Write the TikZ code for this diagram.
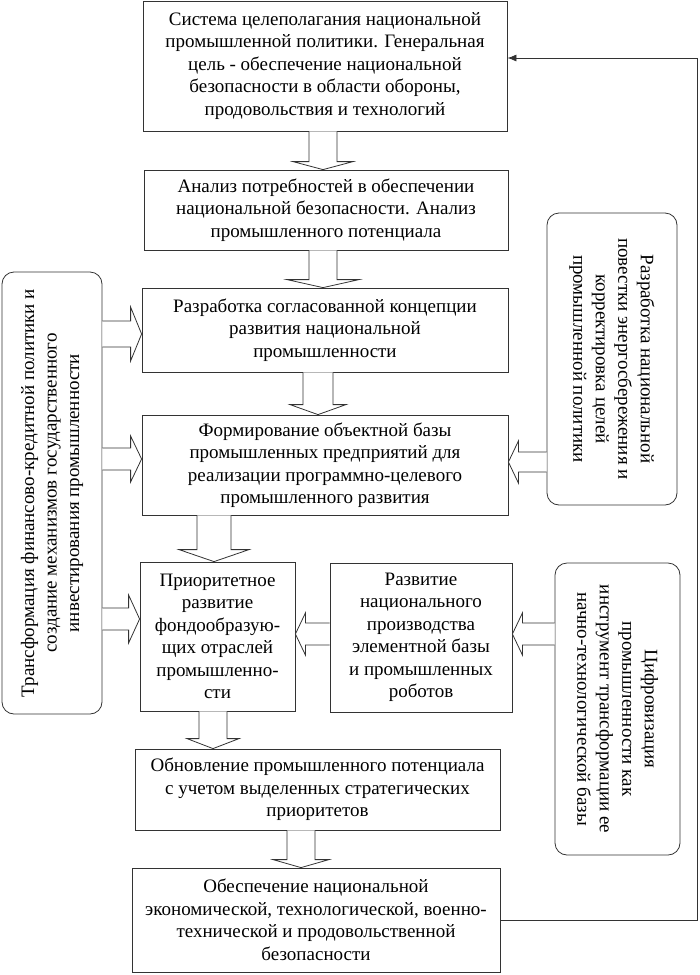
\documentclass[tikz,border=0pt]{standalone}
\usepackage{fontspec}
\setmainfont{Liberation Serif}
\usetikzlibrary{calc,arrows.meta}
\tikzset{
  ln/.style={draw=black!80, line width=0.8pt},
  box/.style={ln, fill=white, inner sep=0pt, align=center, font=\fontsize{19}{22.5}\selectfont},
  rbox/.style={ln, fill=white, rounded corners=12pt, inner sep=0pt},
  rtext/.style={inner sep=0pt, align=center, font=\fontsize{19}{22.5}\selectfont},
  blockarrow/.style={ln, fill=white, line join=miter},
  fbline/.style={ln, -{Latex[length=9pt,width=7pt]}}
}
\newcommand\downblock[6]{%
  \path (#3,0 |- #1.south) coordinate (bs) (#3,0 |- #2.north) coordinate (bt);
  \draw[blockarrow] ($(bs)+(-#4,0)$) -- ($(bt)+(-#4,-#6)$) -- ($(bt)+(-#5,-#6)$) -- (bt) -- ($(bt)+(#5,-#6)$) -- ($(bt)+(#4,-#6)$) -- ($(bs)+(#4,0)$);
}
\newcommand\rightblock[6]{%
  \path (#1.east |- 0,#3) coordinate (bs) (#2.west |- 0,#3) coordinate (bt);
  \draw[blockarrow] ($(bs)+(0,-#4)$) -- ($(bt)+(-#6,-#4)$) -- ($(bt)+(-#6,-#5)$) -- (bt) -- ($(bt)+(-#6,#5)$) -- ($(bt)+(-#6,#4)$) -- ($(bs)+(0,#4)$);
}
\newcommand\leftblock[6]{%
  \path (#1.west |- 0,#3) coordinate (bs) (#2.east |- 0,#3) coordinate (bt);
  \draw[blockarrow] ($(bs)+(0,-#4)$) -- ($(bt)+(#6,-#4)$) -- ($(bt)+(#6,-#5)$) -- (bt) -- ($(bt)+(#6,#5)$) -- ($(bt)+(#6,#4)$) -- ($(bs)+(0,#4)$);
}
\begin{document}
\begin{tikzpicture}[x=1pt,y=-1pt]
\useasboundingbox (0,0) rectangle (700,975);

\node[box, minimum width=364pt, minimum height=130pt] (b1) at (325,66)
  {Система целеполагания национальной\\промышленной политики. Генеральная\\цель - обеспечение национальной\\безопасности в области обороны,\\продовольствия и технологий};
\node[box, minimum width=364pt, minimum height=80pt] (b2) at (326,210)
  {Анализ потребностей в обеспечении\\национальной безопасности. Анализ\\промышленного потенциала};
\node[box, minimum width=366pt, minimum height=84pt] (b3) at (325,330)
  {Разработка согласованной концепции\\развития национальной\\промышленности};
\node[box, minimum width=366pt, minimum height=100pt] (b4) at (325,465)
  {Формирование объектной базы\\промышленных предприятий для\\реализации программно-целевого\\промышленного развития};
\node[box, minimum width=155pt, minimum height=149pt] (b5) at (217.5,636.5)
  {Приоритетное\\развитие\\фондообразую-\\щих отраслей\\промышленно-\\сти};
\node[box, minimum width=182pt, minimum height=149pt] (b6) at (421,637.5)
  {Развитие\\национального\\производства\\элементной базы\\и промышленных\\роботов};
\node[box, minimum width=365pt, minimum height=81pt] (b7) at (317.5,789.5)
  {Обновление промышленного потенциала\\с учетом выделенных стратегических\\приоритетов};
\node[box, minimum width=368pt, minimum height=104pt] (b8) at (316,920)
  {Обеспечение национальной\\экономической, технологической, военно-\\технической и продовольственной\\безопасности};

\node[rbox, minimum width=100pt, minimum height=442pt] (L) at (52,493) {};
\node[rtext, rotate=90] (Lt) at (L.center)
  {Трансформация финансово-кредитной политики и\\создание механизмов государственного\\инвестирования промышленности};
\node[rbox, minimum width=130pt, minimum height=292pt] (R1) at (612,359) {};
\node[rtext, rotate=-90] (R1t) at (R1.center)
  {Разработка национальной\\повестки энергосбережения и\\корректировка целей\\промышленной политики};
\node[rbox, minimum width=125pt, minimum height=292pt] (R2) at (617.5,709) {};
\node[rtext, rotate=-90] (R2t) at (R2.center)
  {Цифровизация\\промышленности как\\инструмент трансформации ее\\начно-технологической базы};

% vertical block arrows
\downblock{b1}{b2}{323}{14}{30}{8}
\downblock{b2}{b3}{323}{14}{36}{8}
\downblock{b3}{b4}{318}{15}{28}{10}
\downblock{b4}{b5}{214}{17}{35}{12}
\downblock{b5}{b7}{213}{14}{26}{10}
\downblock{b7}{b8}{301}{14}{28}{8}

% horizontal block arrows
\rightblock{L}{b3}{334}{13}{27}{11}
\rightblock{L}{b4}{459}{11}{23}{11}
\rightblock{L}{b5}{619}{11}{24}{11}
\leftblock{R1}{b4}{462}{10}{21}{10}
\leftblock{b6}{b5}{634}{11}{21}{10}
\leftblock{R2}{b6}{634}{11}{21}{10}

% feedback loop
\coordinate (fb) at (697,58);
\draw[fbline] (b8.east) -| (fb) -- (fb -| b1.east);
\end{tikzpicture}
\end{document}
